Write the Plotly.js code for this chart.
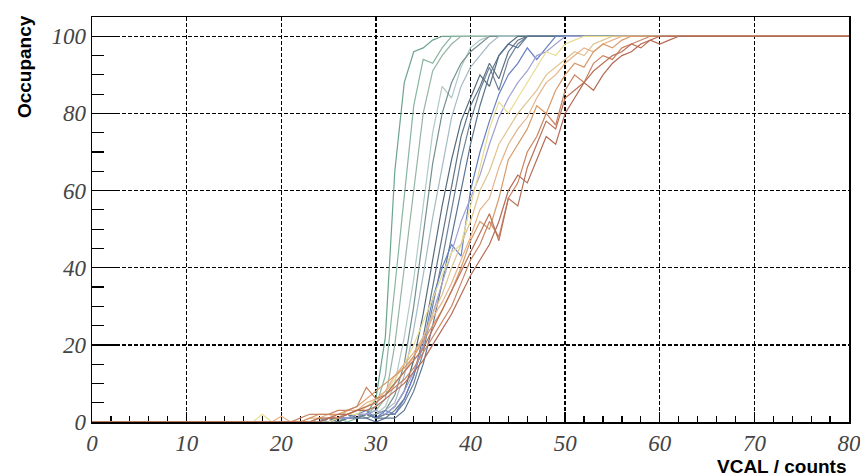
<!DOCTYPE html>
<html>
<head>
<meta charset="utf-8">
<script src="https://cdn.plot.ly/plotly-3.0.1.min.js"></script>
<style>
html,body{margin:0;padding:0;background:#fff;}
#chart{width:860px;height:476px;}
#chart .xtick text, #chart .ytick text {font-style: italic !important;}
</style>
</head>
<body>
<div id="chart"></div>
<script>
// VCAL values (x): 0, 16..62, 80
const vcal = [0,16,17,18,19,20,21,22,23,24,25,26,27,28,29,
  30,31,32,33,34,35,36,37,38,39,
  40,41,42,43,44,45,46,47,48,49,
  50,51,52,53,54,55,56,57,58,59,
  60,61,62,80];

// occupancy per pixel curve (same length as vcal)
const occ01 = [0, 0,0,0,0,0,0,0,0,0,0,0,1,1,2, 6,22,65,88,96,97,99,100,100,100, 100,100,100,100,100,100,100,100,100,100, 100,100,100,100,100,100,100,100,100,100, 100,100,100,100];
const occ02 = [0, 0,0,0,0,0,0,0,0,0,0,1,0,1,2, 4,12,35,58,82,94,93,97,100,100, 100,100,100,100,100,100,100,100,100,100, 100,100,100,100,100,100,100,100,100,100, 100,100,100,100];
const occ03 = [0, 0,0,0,0,0,0,0,0,0,1,0,1,1,2, 3,6,20,40,60,80,91,95,98,100, 100,100,100,100,100,100,100,100,100,100, 100,100,100,100,100,100,100,100,100,100, 100,100,100,100];
const occ04 = [0, 0,0,0,0,0,0,0,0,0,0,1,1,1,2, 2,4,10,22,37,56,75,87,84,92, 97,99,100,100,100,100,100,100,100,100, 100,100,100,100,100,100,100,100,100,100, 100,100,100,100];
const occ05 = [0, 0,0,0,0,0,0,0,0,1,0,1,1,2,1, 2,3,7,15,30,48,67,80,88,93, 96,98,100,100,100,100,100,100,100,100, 100,100,100,100,100,100,100,100,100,100, 100,100,100,100];
const occ06 = [0, 0,0,0,0,0,0,0,0,0,1,1,2,1,2, 1,3,5,12,24,38,53,66,79,87, 92,95,98,100,100,100,100,100,100,100, 100,100,100,100,100,100,100,100,100,100, 100,100,100,100];
const occ07 = [0, 0,0,0,0,0,0,0,0,0,1,1,2,1,2, 1,2,4,8,16,28,42,56,68,78, 84,90,87,95,98,100,100,100,100,100, 100,100,100,100,100,100,100,100,100,100, 100,100,100,100];
const occ08 = [0, 0,0,0,0,0,0,0,0,0,1,0,1,2,2, 1,1,3,6,12,22,35,48,62,74, 82,87,93,89,96,99,100,100,100,100, 100,100,100,100,100,100,100,100,100,100, 100,100,100,100];
const occ09 = [0, 0,0,0,0,0,0,0,0,0,0,1,1,1,2, 1,2,2,5,10,18,30,42,55,68, 78,86,92,86,94,98,100,100,100,100, 100,100,100,100,100,100,100,100,100,100, 100,100,100,100];
const occ10 = [0, 0,0,0,0,0,0,0,0,0,1,1,2,1,1, 0,1,1,3,8,15,25,36,48,60, 72,82,90,95,98,97,100,100,100,100, 100,100,100,100,100,100,100,100,100,100, 100,100,100,100];
const occ11 = [0, 0,0,0,0,0,0,0,0,0,0,1,1,2,3, 1,3,2,6,12,20,32,40,46,43, 60,70,78,85,90,93,97,94,97,100, 100,100,100,100,100,100,100,100,100,100, 100,100,100,100];
const occ12 = [0, 0,0,0,0,0,0,0,0,0,1,1,1,2,2, 3,2,4,8,13,20,28,36,44,52, 58,64,72,79,84,88,91,95,96,98, 100,100,100,100,100,100,100,100,100,100, 100,100,100,100];
const occ13 = [0, 0,0,2,0,0,0,0,0,0,0,1,2,2,4, 6,8,11,15,20,26,32,38,44,46, 56,66,76,83,80,84,88,92,96,95, 98,99,100,100,100,100,100,100,100,100, 100,100,100,100];
const occ14 = [0, 0,0,0,0,0,0,0,0,1,1,2,2,3,4, 5,8,10,13,17,22,28,33,40,46, 52,60,65,72,76,80,83,86,90,92, 94,96,95,98,99,100,100,100,100,100, 100,100,100,100];
const occ15 = [0, 0,0,0,0,1.5,0,0,1,1,2,1,3,3,5, 6,8,12,15,18,22,27,31,36,42, 48,55,58,66,72,76,79,84,88,90, 93,95,97,96,98,99,100,100,100,100, 100,100,100,100];
const occ16 = [0, 0,0,0,0,0,0,0,1,2,2,2,3,4,6, 8,10,12,14,17,21,25,29,34,40, 47,52,50,58,68,72,76,82,80,86, 90,93,92,96,98,97,99,100,100,100, 100,100,100,100];
const occ17 = [0, 0,0,0,0,0,0,1,2,2,2,3,3,4,9, 6,7,9,11,14,18,22,26,30,36, 42,46,52,48,58,62,70,74,80,77, 86,90,88,93,95,94,97,98,99,100, 100,100,100,100];
const occ18 = [0, 0,0,0,0,0,0,0,0,1,1,2,2,3,4, 5,7,10,13,16,19,24,29,34,39, 44,49,54,47,58,56,66,72,78,76, 84,86,88,91,93,95,96,98,97,99, 100,100,100,100];
const occ19 = [0, 0,0,0,0,0,0,0,0,0,1,1,2,3,3, 4,6,8,10,13,16,20,24,28,33, 38,42,46,52,60,64,62,68,74,72, 80,84,88,86,90,93,95,96,98,99, 98,99,100,100];

const curves = [occ01,occ02,occ03,occ04,occ05,occ06,occ07,occ08,occ09,occ10,
                occ11,occ12,occ13,occ14,occ15,occ16,occ17,occ18,occ19];
const colors = ['#6aa58c','#88b6a0','#98b4a6','#b0cac6','#75908f','#a5bac4','#536a7c','#5f7484','#6e8196','#5a7492',
                '#6580c4','#a0a0d2','#e8dc90','#dec490','#e6b288','#d89a68','#c98462','#ba7258','#b56a55'];

const traces = curves.map((y, i) => ({
  x: vcal, y: y, type: 'scatter', mode: 'lines',
  line: {color: colors[i], width: 1.2},
  hoverinfo: 'skip', showlegend: false
}));

const tickFont = {family: 'Liberation Serif, Times New Roman, serif', style: 'italic', size: 23, color: '#444'};
const titleFont = {family: 'Liberation Sans, Arial, sans-serif', weight: 'bold', size: 19, color: '#000'};

const layout = {
  width: 860, height: 476,
  margin: {l: 92, r: 11, t: 17, b: 54},
  paper_bgcolor: '#fff', plot_bgcolor: '#fff',
  showlegend: false,
  xaxis: {
    range: [0, 80], tick0: 0, dtick: 10, ticks: 'inside', ticklen: 10, tickwidth: 1.3, tickcolor: '#000',
    showgrid: true, gridcolor: '#000', gridwidth: 1.3, griddash: '4px,2px',
    showline: true, mirror: true, linecolor: '#000', linewidth: 1.5, zeroline: false,
    tickfont: tickFont, layer: 'below traces', ticklabeloverflow: 'allow',
    minor: {dtick: 2, tick0: 0, ticks: 'inside', ticklen: 6, tickwidth: 1.2, tickcolor: '#000', showgrid: false}
  },
  yaxis: {
    range: [0, 105], tick0: 0, dtick: 20, ticks: 'inside', ticklen: 24, tickwidth: 1.3, tickcolor: '#000',
    showgrid: true, gridcolor: '#000', gridwidth: 1.3, griddash: '4px,2px',
    showline: true, mirror: true, linecolor: '#000', linewidth: 1.5, zeroline: false,
    tickfont: tickFont, layer: 'below traces', ticklabeloverflow: 'allow',
    minor: {dtick: 5, tick0: 0, ticks: 'inside', ticklen: 12, tickwidth: 1.2, tickcolor: '#000', showgrid: false}
  },
  annotations: [
    {text: 'Occupancy', xref: 'paper', yref: 'paper', x: -0.089, y: 1.01, xanchor: 'center', yanchor: 'top',
     textangle: -90, showarrow: false, font: titleFont},
    {text: 'VCAL / counts', xref: 'paper', yref: 'paper', x: 1.0, y: -0.078, xanchor: 'right', yanchor: 'top',
     showarrow: false, font: titleFont}
  ]
};

Plotly.newPlot('chart', traces, layout, {staticPlot: true, displayModeBar: false});
</script>
</body>
</html>
